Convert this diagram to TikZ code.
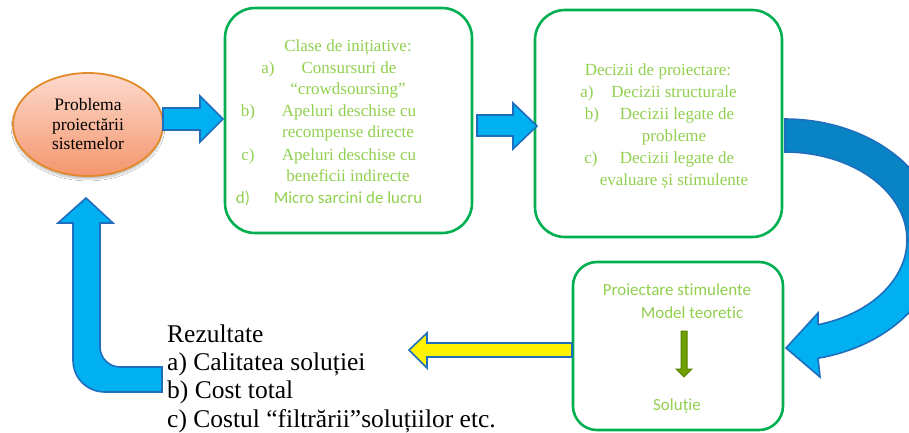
\documentclass[tikz,border=0pt]{standalone}
\usepackage{fontspec}
\setmainfont{Liberation Serif}
\newfontfamily\calibrifont[Ligatures={NoCommon}]{Carlito}
\usetikzlibrary{shapes.geometric,shadows.blur}
\definecolor{boxgreen}{RGB}{0,176,80}
\definecolor{txtgreen}{RGB}{146,208,80}
\definecolor{arrowfill}{RGB}{0,176,240}
\definecolor{arrowdark}{RGB}{8,132,196}
\definecolor{arrowedge}{RGB}{31,110,190}
\definecolor{elltop}{RGB}{253,218,206}
\definecolor{ellbot}{RGB}{244,150,108}
\definecolor{elledge}{RGB}{226,138,43}
\definecolor{olivefill}{RGB}{112,160,0}
\definecolor{oliveedge}{RGB}{88,128,0}
\pgfdeclareverticalshading{curvshade}{100bp}{color(0bp)=(arrowfill); color(46bp)=(arrowfill); color(54bp)=(arrowdark); color(100bp)=(arrowdark)}
\begin{document}
\begin{tikzpicture}[x=1pt,y=-1pt,
  box/.style={draw=boxgreen, line width=2.6pt, rounded corners=30pt, fill=white},
  blockarrow/.style={fill=arrowfill, draw=arrowedge, line width=1.6pt, line join=miter},
  gt/.style={font=\fontsize{17}{20}\selectfont, text=txtgreen, anchor=base, inner sep=0pt},
  gc/.style={font=\calibrifont\fontsize{17}{20}\selectfont, text=txtgreen, anchor=base, inner sep=0pt},
  rt/.style={font=\fontsize{25.5}{28}\selectfont, text=black, anchor=base west, inner sep=0pt}]
\useasboundingbox (0,0) rectangle (909,432);
\clip (0,0) rectangle (909,432);
\fill[white] (0,0) rectangle (909,432);

% boxes
\node[box, minimum width=247pt, minimum height=225pt] (b1) at (348.5,120.5) {};
\node[box, minimum width=247pt, minimum height=227pt] (b2) at (658.5,123.5) {};
\node[box, rounded corners=24pt, minimum width=210pt, minimum height=168pt] (b3) at (678,346) {};

% ellipse
\node[ellipse, minimum width=150pt, minimum height=103pt, top color=elltop, bottom color=ellbot,
      draw=elledge, line width=1.8pt, align=center, font=\fontsize{17.5}{19.5}\selectfont,
      blur shadow={shadow xshift=0pt, shadow yshift=-3pt, shadow blur steps=6, shadow opacity=25}] (prob) at (88,124.5)
      {Problema\\proiectării\\sistemelor};

% straight block arrows
\path[blockarrow] (163,108) -- (200,108) -- (200,96) -- (223,119) -- (200,142) -- (200,130) -- (163,130) -- cycle;
\path[blockarrow] (477,115) -- (513,115) -- (513,103) -- (537,126) -- (513,149) -- (513,136) -- (477,136) -- cycle;

% yellow arrow
\path[fill=yellow, draw=arrowedge, line width=1.6pt] (572,343) -- (427,343) -- (427,333) -- (409,350) -- (427,368) -- (427,357) -- (572,357) -- cycle;

% L-shaped arrow
\path[blockarrow] (86,198) -- (113,223) -- (100,223) -- (100,347)
   .. controls (100,358) and (109,367) .. (120,367) -- (162,367) -- (162,392) -- (105,392)
   .. controls (87,392) and (73,378) .. (73,360) -- (73,223) -- (58,223) -- cycle;

% curved arrow
\shadedraw[shading=curvshade, draw=arrowedge, line width=1.6pt, line join=miter]
  plot[domain=90:-77.7, samples=80, variable=\t] ({785+155*cos(\t)},{240-121*sin(\t)})
  -- (820,377) -- (786,348) -- (818,313) -- (818,325)
  -- plot[domain=-74.3:90, samples=80, variable=\t] ({785+122*cos(\t)},{240-88*sin(\t)})
  -- cycle;

% box 1 text
\node[gt] (t1) at (348,51) {Clase de inițiative:};
\node[gt] (t1a) at (268,73) {a)};
\node[gt] (t1a1) at (349,73) {Consursuri de};
\node[gt] (t1a2) at (348,94) {“crowdsoursing”};
\node[gt] (t1b) at (248,116) {b)};
\node[gt] (t1b1) at (349,116) {Apeluri deschise cu};
\node[gt] (t1b2) at (348,137) {recompense directe};
\node[gt] (t1c) at (248,160) {c)};
\node[gt] (t1c1) at (349,160) {Apeluri deschise cu};
\node[gt] (t1c2) at (348,181) {beneficii indirecte};
\node[gc] (t1d) at (243,203) {d)};
\node[gc] (t1d1) at (348,203) {Micro sarcini de lucru};

% box 2 text
\node[gt] (t2) at (658,75) {Decizii de proiectare:};
\node[gt] (t2a) at (587,97) {a)};
\node[gt] (t2a1) at (674,97) {Decizii structurale};
\node[gt] (t2b) at (592,119) {b)};
\node[gt] (t2b1) at (677,119) {Decizii legate de};
\node[gt] (t2b2) at (674,141) {probleme};
\node[gt] (t2c) at (591,163) {c)};
\node[gt] (t2c1) at (677,163) {Decizii legate de};
\node[gt] (t2c2) at (674,185) {evaluare și stimulente};

% box 3 text
\node[gc] (t3a) at (677,295) {Proiectare stimulente};
\node[gc] (t3b) at (692,318) {Model teoretic};
\node[gc] (t3c) at (677,410) {Soluție};
\path[fill=olivefill, draw=oliveedge, line width=1pt] (681,331) -- (687,331) -- (687,369) -- (692,369) -- (684,377) -- (676,369) -- (681,369) -- cycle;

% results text
\node[rt] (r0) at (167,342) {Rezultate};
\node[rt] (r1) at (167,370) {a) Calitatea soluției};
\node[rt] (r2) at (167,398) {b) Cost total};
\node[rt] (r3) at (167,427) {c) Costul “filtrării”soluțiilor etc.};
\end{tikzpicture}
\end{document}
